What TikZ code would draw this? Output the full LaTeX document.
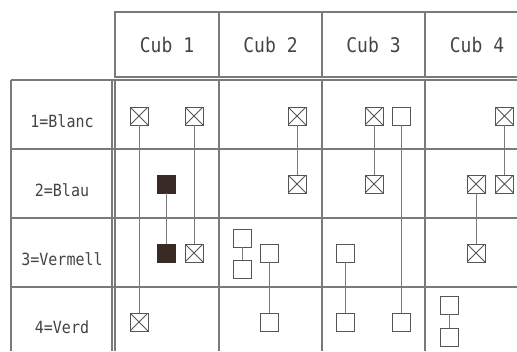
\documentclass[tikz,border=0pt]{standalone}
\usepackage{fontspec}
\usepackage{graphicx}
\setmonofont{DejaVu Sans Mono}
\definecolor{fillc}{HTML}{3A2A26}
\definecolor{gridc}{HTML}{7A7A7A}
\definecolor{boxc}{HTML}{555555}
\definecolor{txtc}{HTML}{444444}
\newcommand{\tallt}[1]{\scalebox{1}[1.12]{#1}}
\begin{document}
\begin{tikzpicture}[x=1pt,y=-1pt,
  grid/.style={draw=gridc, line width=1.2pt},
  bx/.style={rectangle, draw=boxc, line width=0.9pt, fill=white, minimum size=18pt, inner sep=0pt},
  xbx/.style={bx, path picture={\draw[boxc, line width=0.8pt]
     (path picture bounding box.north west) -- (path picture bounding box.south east)
     (path picture bounding box.north east) -- (path picture bounding box.south west);}},
  fbx/.style={bx, fill=fillc, draw=fillc},
  link/.style={draw=gridc, line width=0.9pt},
  hdr/.style={font=\ttfamily\fontsize{18}{18}\selectfont, text=txtc},
  lab/.style={font=\ttfamily\fontsize{15}{15}\selectfont, text=txtc}]
\useasboundingbox (0,0) rectangle (517,351);
\fill[white] (0,0) rectangle (517,351);
% header grid
\draw[grid] (517,12) -- (115,12) -- (115,77) -- (517,77);
\foreach \x in {219,322,425} \draw[grid] (\x,12) -- (\x,77);
% body grid
\foreach \y in {80,149,218,287} \draw[grid] (11,\y) -- (517,\y);
\foreach \x in {11,112,115,219,322,425} \draw[grid] (\x,80) -- (\x,351);
% header texts
\node[hdr] (h1) at (167,45) {\tallt{Cub 1}};
\node[hdr] (h2) at (270.5,45) {\tallt{Cub 2}};
\node[hdr] (h3) at (373.5,45) {\tallt{Cub 3}};
\node[hdr] (h4) at (477,45) {\tallt{Cub 4}};
% row labels
\node[lab] (r1) at (62,121) {\tallt{1=Blanc}};
\node[lab] (r2) at (62,190) {\tallt{2=Blau}};
\node[lab] (r3) at (62,259) {\tallt{3=Vermell}};
\node[lab] (r4) at (62,327) {\tallt{4=Verd}};
% Cub 1
\node[xbx] (a1) at (139,116) {};
\node[xbx] (a2) at (194,116) {};
\node[fbx] (a3) at (166,184) {};
\node[fbx] (a4) at (166,253) {};
\node[xbx] (a5) at (194,253) {};
\node[xbx] (a6) at (139,322) {};
\draw[link] (a1) -- (a6);
\draw[link] (a2) -- (a5);
\draw[link] (a3) -- (a4);
% Cub 2
\node[xbx] (b1) at (297,116) {};
\node[xbx] (b2) at (297,184) {};
\node[bx] (b3) at (242,238) {};
\node[bx] (b4) at (242,269) {};
\node[bx] (b5) at (269,253) {};
\node[bx] (b6) at (269,322) {};
\draw[link] (b1) -- (b2);
\draw[link] (b3) -- (b4);
\draw[link] (b5) -- (b6);
% Cub 3
\node[xbx] (c1) at (374,116) {};
\node[bx] (c2) at (401,116) {};
\node[xbx] (c3) at (374,184) {};
\node[bx] (c4) at (345,253) {};
\node[bx] (c5) at (345,322) {};
\node[bx] (c6) at (401,322) {};
\draw[link] (c1) -- (c3);
\draw[link] (c2) -- (c6);
\draw[link] (c4) -- (c5);
% Cub 4
\node[xbx] (d1) at (504.5,116) {};
\node[xbx] (d2) at (476,184) {};
\node[xbx] (d3) at (504.5,184) {};
\node[xbx] (d4) at (476,253) {};
\node[bx] (d5) at (449,305) {};
\node[bx] (d6) at (449,337) {};
\draw[link] (d1) -- (d3);
\draw[link] (d2) -- (d4);
\draw[link] (d5) -- (d6);
\end{tikzpicture}
\end{document}
